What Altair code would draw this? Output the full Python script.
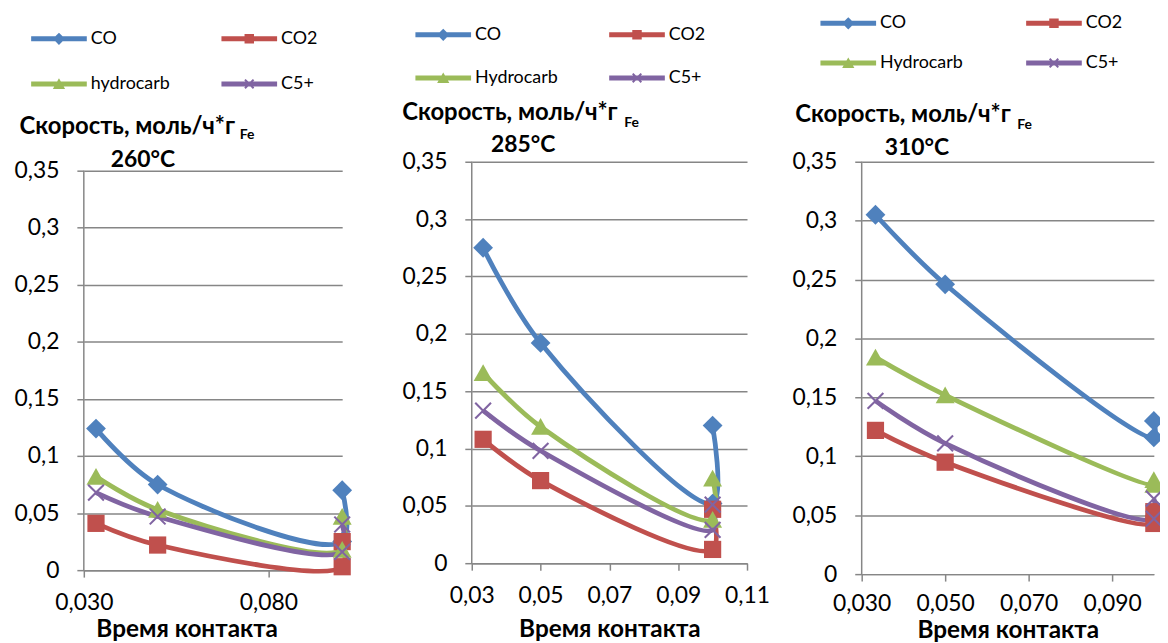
import altair as alt
import pandas as pd

COLORS = ["#4F81BD", "#C0504D", "#9BBB59", "#8064A2"]
FONT = "Lato"

contact_time = [0.0333, 0.05, 0.1, 0.1]

names_260 = ["CO", "CO2", "hydrocarb", "C5+"]
co_260 = [0.124, 0.075, 0.025, 0.070]
co2_260 = [0.041, 0.022, 0.003, 0.025]
hc_260 = [0.082, 0.053, 0.018, 0.047]
c5_260 = [0.068, 0.047, 0.016, 0.040]

names_285 = ["CO", "CO2", "Hydrocarb", "C5+"]
co_285 = [0.275, 0.192, 0.052, 0.120]
co2_285 = [0.108, 0.072, 0.012, 0.047]
hc_285 = [0.166, 0.119, 0.038, 0.074]
c5_285 = [0.133, 0.098, 0.029, 0.051]

names_310 = ["CO", "CO2", "Hydrocarb", "C5+"]
co_310 = [0.305, 0.246, 0.116, 0.130]
co2_310 = [0.122, 0.095, 0.043, 0.053]
hc_310 = [0.184, 0.152, 0.076, 0.080]
c5_310 = [0.147, 0.111, 0.047, 0.064]

y_ticks = [0, 0.05, 0.1, 0.15, 0.2, 0.25, 0.3, 0.35]
y_axis_span = [0, 0.35]
x_ticks_260 = [0.03, 0.08]
x_ticks_285 = [0.03, 0.05, 0.07, 0.09, 0.11]
x_ticks_310 = [0.03, 0.05, 0.07, 0.09]

y_title = "Скорость, моль/ч*г"
y_title_sub = "Fe"
x_title = "Время контакта"
temps = ["260°C", "285°C", "310°C"]

# marker shapes (plot)
MARKERS = [
    "M0,-1.15L1.15,0L0,1.15L-1.15,0Z",
    "M-1,-1H1V1H-1Z",
    "M0,-1L1.1,0.95H-1.1Z",
    "M-0.83,-1L0,-0.17L0.83,-1L1,-0.83L0.17,0L1,0.83L0.83,1L0,0.17L-0.83,1L-1,0.83L-0.17,0L-1,-0.83Z",
]
# legend symbols: line + marker
LINE = "M-1,-0.09H1V0.09H-1Z"
LEG_MARK = [
    "M0,-0.22L0.22,0L0,0.22L-0.22,0Z",
    "M-0.17,-0.17H0.17V0.17H-0.17Z",
    "M0,-0.2L0.22,0.18H-0.22Z",
    "M-0.13,-0.18L0,-0.05L0.13,-0.18L0.18,-0.13L0.05,0L0.18,0.13L0.13,0.18L0,0.05L-0.13,0.18L-0.18,0.13L-0.05,0L-0.18,-0.13Z",
]
LEG_PATHS = [LINE + " " + m for m in LEG_MARK]

GRID = "#868686"
TICK_FS = 23


def arr(items):
    return "[" + ",".join("'" + p + "'" for p in items) + "]"


def make_panel(names, vals, x_dom, x_ticks, x_fmt, w, h, ymax, temp,
               title_xy, fe_xy, temp_xy, leg, xt_x, xt_y, xlp=15):
    rows = []
    for name, v in zip(names, vals):
        for k, (xv, yv) in enumerate(zip(contact_time, v)):
            rows.append({"s": name, "x": xv, "y": yv, "k": k})
    df = pd.DataFrame(rows)

    xaxis_kw = dict(
        values=x_ticks,
        labelExpr="replace(format(datum.value, '%s'), '.', ',')" % x_fmt,
        grid=False, domainColor=GRID, domainWidth=1.5, tickColor=GRID,
        tickWidth=1.5, tickSize=7, labelPadding=xlp, labelFont=FONT,
        labelFontSize=TICK_FS, labelColor="black", labelFlush=False,
        title=x_title, titleFont=FONT, titleFontSize=24.5, titleFontWeight="bold",
        titleColor="black", titleBaseline="alphabetic", titleY=xt_y,
    )
    if xt_x is not None:
        xaxis_kw["titleX"] = xt_x
    xaxis = alt.Axis(**xaxis_kw)
    yaxis = alt.Axis(
        values=y_ticks,
        labelExpr="replace(format(datum.value, '.2~f'), '.', ',')",
        grid=True, gridColor=GRID, gridWidth=1.5, domain=False,
        tickColor=GRID, tickWidth=1.5, tickSize=7,
        labelPadding=18, labelFont=FONT, labelFontSize=TICK_FS, labelColor="black",
        title=None,
    )
    xs = alt.X("x:Q", scale=alt.Scale(domain=x_dom, nice=False, zero=False), axis=xaxis)
    ys = alt.Y("y:Q", scale=alt.Scale(domain=[0, ymax], nice=False), axis=yaxis)

    leg_kw = dict(
        orient="none", legendX=leg["x"], legendY=leg["y"], columns=2,
        direction="horizontal", title=None,
        columnPadding=leg["cp"], rowPadding=leg["rp"], labelFont=FONT,
        labelFontSize=18, labelColor="black", labelOffset=4,
        symbolSize=3136, symbolStrokeWidth=0, symbolOpacity=1,
        symbolType={"expr": arr(LEG_PATHS) + "[indexof(" + arr(names) + ", datum.value)]"},
    )
    cscale = alt.Scale(domain=names, range=COLORS)

    base = alt.Chart(df)
    line = base.mark_line(interpolate="catmull-rom", strokeWidth=4.8).encode(
        x=xs, y=ys, color=alt.Color("s:N", scale=cscale, legend=None),
        order=alt.Order("k:Q"))
    pts = base.mark_point(filled=True, opacity=1, size=300, strokeWidth=0).encode(
        x=xs, y=ys, color=alt.Color("s:N", scale=cscale, legend=None),
        shape=alt.Shape("s:N", scale=alt.Scale(domain=names, range=MARKERS), legend=None))
    leg_layer = alt.Chart(pd.DataFrame({"s": pd.Series([], dtype=str)})).mark_point(
        filled=True, opacity=1).encode(
        color=alt.Color("s:N", scale=cscale, legend=alt.Legend(**leg_kw)))

    axis_line = alt.Chart(pd.DataFrame({"y0": [y_axis_span[0]], "y1": [y_axis_span[1]]})).mark_rule(
        color=GRID, strokeWidth=1.5).encode(x=alt.value(0), y="y0:Q", y2="y1:Q")

    def txt(t, xy, size):
        return alt.Chart(pd.DataFrame({"t": [t]})).mark_text(
            align="left", baseline="alphabetic", font=FONT, fontSize=size,
            fontWeight="bold", color="black").encode(
            text="t:N", x=alt.value(xy[0]), y=alt.value(xy[1]))

    t1 = txt(y_title, title_xy, 24)
    t2 = txt(y_title_sub, fe_xy, 14)
    t3 = txt(temp, temp_xy, 23)
    return alt.layer(axis_line, line, pts, leg_layer, t1, t2, t3).resolve_scale(
        color="independent", shape="independent").properties(width=w, height=h)


p1 = make_panel(names_260, [co_260, co2_260, hc_260, c5_260], [0.03, 0.1], x_ticks_260, ".3f",
                260, 411, 0.35 * 411 / 402, temps[0], (-64.7, -28), (157, -23), (27, 5),
                {"x": -53, "y": -151.7, "cp": 51.5, "rp": 8.4},
                103.5, 67)
p2 = make_panel(names_285, [co_285, co2_285, hc_285, c5_285], [0.03, 0.11], x_ticks_285, ".2f",
                277, 404, 0.35, temps[1], (-70, -41.7), (153.5, -35), (19.3, -10),
                {"x": -56.7, "y": -155.7, "cp": 51, "rp": 6.4},
                None, 74)
p3 = make_panel(names_310, [co_310, co2_310, hc_310, c5_310], [0.03, 0.1], x_ticks_310, ".3f",
                294, 415, 0.35, temps[2], (-66.8, -40), (156.5, -33.3), (23.2, -7),
                {"x": -41.5, "y": -167.3, "cp": 63, "rp": 3},
                None, 64, xlp=12)

res = dict(color="independent", shape="independent", x="independent", y="independent")
inner = alt.hconcat(p1, p2, spacing=44.4).resolve_scale(**res).resolve_legend(color="independent")
chart = alt.hconcat(inner, p3, spacing=20.8).resolve_scale(**res).resolve_legend(color="independent")
chart = chart.properties(
    padding={"left": 5.3, "top": -15.3, "right": -6, "bottom": 0},
    background="white",
).configure_view(stroke=None)

chart.save("out.html", embed_options={"renderer": "svg", "actions": False})
